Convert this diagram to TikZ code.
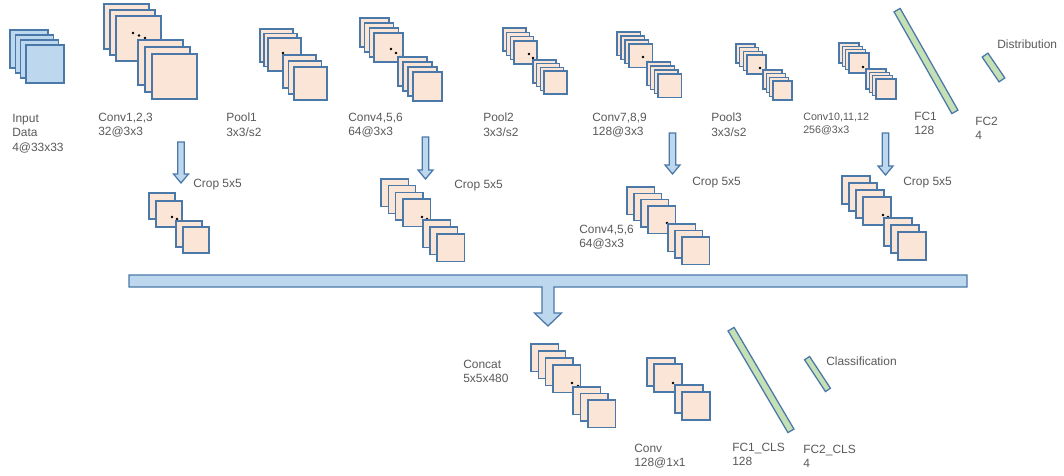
\documentclass[tikz,border=0pt]{standalone}
\usepackage{fontspec}
\setmainfont{Liberation Sans}

\definecolor{mapline}{HTML}{4A78A8}
\definecolor{mappeach}{HTML}{FBE5D6}
\definecolor{inputblue}{HTML}{BDD7EE}
\definecolor{fcgreen}{HTML}{C5E0B4}
\definecolor{textgray}{HTML}{595959}

% one pixel of the layout grid
\newcommand{\pxl}{0.025cm}

% a run of #4 feature maps: corner (#1,#2), side #3, step (#5,#6)
\newcommand{\maprun}[7][fmap]{%
  \foreach \i in {1,...,#5}
    \draw[#1] ({#2+(\i-1)*#6},{#3+(\i-1)*#7}) rectangle +(#4,#4);
}

% hollow block arrow pointing down: centre x, top, tip
\newcommand{\blockdown}[3]{%
  \draw[flow] ({#1-3.3},#2) -- ({#1+3.3},#2) -- ({#1+3.3},{#3-9}) -- ({#1+7.5},{#3-9})
    -- (#1,#3) -- ({#1-7.5},{#3-9}) -- ({#1-3.3},{#3-9}) -- cycle;
}

\begin{document}
\begin{tikzpicture}[
    x=0.025cm, y=-0.025cm,
    every node/.style={font=\fontsize{8.5}{10.2}\selectfont, text=textgray, align=left, inner sep=0pt},
    lbl/.style={anchor=north west},
    small/.style={anchor=north west, font=\fontsize{7.6}{9.4}\selectfont},
    fmap/.style={draw=mapline, fill=mappeach, line width=0.9pt},
    inmap/.style={draw=mapline, fill=inputblue, line width=0.9pt},
    flow/.style={draw=mapline, fill=inputblue, line width=0.9pt},
    fcbar/.style={rectangle, draw=mapline, fill=fcgreen, line width=0.9pt, minimum height=7*\pxl},
    dot/.style={fill=black, circle, minimum size=2.6*\pxl}
  ]
  \useasboundingbox (0,0) rectangle (1064,475);

  % top row: feature extractor
  \maprun[inmap]{10}{30}{38}{4}{5.3}{5}
  \maprun{104}{4}{45}{3}{6}{6}
  \node[dot] (d1a) at (133,33) {}; \node[dot] (d1b) at (139,35.5) {}; \node[dot] (d1c) at (145,38) {};
  \maprun{138}{40}{45}{3}{7}{7}

  \maprun{260}{29}{33}{3}{4}{4.5}
  \node[dot] (d2a) at (283,53) {};
  \maprun{283}{55}{33}{3}{5.5}{6}

  \maprun{360}{18}{29}{4}{4.7}{5}
  \node[dot] (d3a) at (391,49) {}; \node[dot] (d3b) at (396,53) {}; \node[dot] (d3c) at (400,57) {};
  \maprun{398}{57}{29}{4}{5}{5}

  \maprun{503}{28}{23}{4}{3.7}{4.3}
  \node[dot] (d4a) at (529,54) {}; \node[dot] (d4b) at (533,58) {};
  \maprun{533}{60}{23}{4}{3.7}{3.7}

  \maprun{617}{32}{23.5}{4}{4}{4}
  \node[dot] (d5a) at (643,57) {}; \node[dot] (d5b) at (648,62) {};
  \maprun{647}{62}{23.5}{4}{3.7}{4}

  \maprun{736}{44}{19}{4}{3.7}{3.7}
  \node[dot] (d6a) at (760,68) {};
  \maprun{763}{70}{19}{4}{3.3}{3.7}

  \maprun{839}{43}{20}{4}{3.3}{3.3}
  \node[dot] (d7a) at (863,67) {};
  \maprun{866}{69}{20}{4}{3.3}{3.3}

  \node[fcbar, minimum width=117*\pxl, rotate=-60.4] (fc1) at (926,61) {};
  \node[fcbar, minimum width=30*\pxl, rotate=-55.8] (fc2) at (993.5,67.5) {};

  \node[lbl] (input) at (12,114) {Input\\Data\\4@33x33};
  \node[lbl] (conv1) at (98,113) {Conv1,2,3\\32@3x3};
  \node[lbl] (pool1) at (226,113) {Pool1\\3x3/s2};
  \node[lbl] (conv2) at (348,113) {Conv4,5,6\\64@3x3};
  \node[lbl] (pool2) at (483,113) {Pool2\\3x3/s2};
  \node[lbl] (conv3) at (592,113) {Conv7,8,9\\128@3x3};
  \node[lbl] (pool3) at (711,113) {Pool3\\3x3/s2};
  \node[small] (conv4) at (803,113) {Conv10,11,12\\256@3x3};
  \node[lbl] (fc1l) at (914,112) {FC1\\128};
  \node[lbl] (fc2l) at (975,117) {FC2\\4};
  \node[lbl] (dist) at (997,40) {Distribution};

  % crops taken from each conv block
  \blockdown{181}{142}{183}
  \blockdown{425.5}{137}{179}
  \blockdown{672.5}{133}{174}
  \blockdown{885.5}{133}{175}

  \maprun{149}{193}{26}{2}{7}{8}
  \node[dot] (c1a) at (172,217) {}; \node[dot] (c1b) at (177,219) {};
  \maprun{176}{221}{26}{2}{7}{6}

  \maprun{381}{179}{27.5}{4}{7.3}{6.7}
  \node[dot] (c2a) at (422,217) {}; \node[dot] (c2b) at (427,219) {};
  \maprun{423}{220}{27.5}{3}{7}{7}

  \maprun{627}{187}{27.5}{4}{7}{6.3}
  \node[dot] (c3a) at (667,223) {};
  \maprun{668}{224}{27.5}{3}{7}{6.5}

  \maprun{842}{176}{28}{4}{7}{7}
  \node[dot] (c4a) at (883,215) {}; \node[dot] (c4b) at (888,217) {};
  \maprun{884}{218}{28}{3}{7}{7}

  \node[lbl] (crop1) at (193,179) {Crop 5x5};
  \node[lbl] (crop2) at (454,180) {Crop 5x5};
  \node[lbl] (crop3) at (692,177) {Crop 5x5};
  \node[lbl] (crop4) at (903,177) {Crop 5x5};
  \node[lbl] (conv2b) at (579,225) {Conv4,5,6\\64@3x3};

  % merge bar into the classifier
  \draw[flow] (129,275) -- (967,275) -- (967,287) -- (554,287) -- (554,313) -- (561.5,313)
    -- (548,326) -- (534.5,313) -- (542,313) -- (542,287) -- (129,287) -- cycle;

  % bottom row: classifier
  \maprun{531}{344}{27.5}{4}{7.3}{7}
  \node[dot] (e1a) at (572,383) {}; \node[dot] (e1b) at (578,386) {};
  \maprun{573}{387}{27.5}{3}{7.5}{6.5}

  \maprun{647}{358}{28}{2}{7}{6}
  \node[dot] (e2a) at (673,383) {};
  \maprun{675}{385}{28}{2}{7}{7}

  \node[fcbar, minimum width=118*\pxl, rotate=-59.5] (fc1cls) at (761,380) {};
  \node[fcbar, minimum width=38*\pxl, minimum height=6*\pxl, rotate=-56.7] (fc2cls) at (817.5,374) {};

  \node[lbl] (concat) at (463,360) {Concat\\5x5x480};
  \node[lbl] (convcls) at (634,444) {Conv\\128@1x1};
  \node[lbl] (fc1clsl) at (732,443) {FC1\_CLS\\128};
  \node[lbl] (fc2clsl) at (803,445) {FC2\_CLS\\4};
  \node[lbl] (cls) at (826,357) {Classification};
\end{tikzpicture}
\end{document}
